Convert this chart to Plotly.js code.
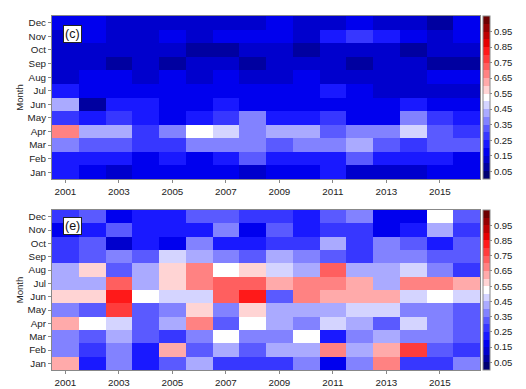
<!DOCTYPE html>
<html>
<head>
<meta charset="utf-8">
<script src="https://cdn.plot.ly/plotly-3.0.1.min.js"></script>
<style>html,body{margin:0;padding:0;background:#fff;}#chart{width:526px;height:389px;}</style>
</head>
<body>
<div id="chart"></div>
<script>
// ---- data ----
const years = [2001,2002,2003,2004,2005,2006,2007,2008,2009,2010,2011,2012,2013,2014,2015,2016];
const months = ['Jan','Feb','Mar','Apr','May','Jun','Jul','Aug','Sep','Oct','Nov','Dec'];
const xTickVals = [2001,2003,2005,2007,2009,2011,2013,2015];
const cbTickVals = [0.05,0.15,0.25,0.35,0.45,0.55,0.65,0.75,0.85,0.95];
const panelLabels = ['(c)','(e)'];

// panel (c): rows Jan..Dec, columns 2001..2016
const zC_Jan = [0.22,0.17,0.12,0.17,0.17,0.17,0.17,0.12,0.17,0.17,0.22,0.12,0.12,0.12,0.17,0.17];
const zC_Feb = [0.22,0.22,0.22,0.17,0.22,0.17,0.22,0.32,0.22,0.22,0.22,0.32,0.22,0.22,0.22,0.17];
const zC_Mar = [0.37,0.32,0.32,0.27,0.27,0.37,0.37,0.37,0.32,0.37,0.37,0.42,0.31,0.27,0.33,0.31];
const zC_Apr = [0.68,0.42,0.42,0.27,0.37,0.53,0.47,0.37,0.42,0.42,0.32,0.37,0.37,0.47,0.32,0.28];
const zC_May = [0.27,0.22,0.28,0.22,0.17,0.22,0.27,0.37,0.22,0.22,0.27,0.17,0.17,0.38,0.27,0.22];
const zC_Jun = [0.42,0.08,0.22,0.22,0.17,0.17,0.22,0.17,0.17,0.17,0.17,0.17,0.17,0.22,0.17,0.17];
const zC_Jul = [0.22,0.17,0.17,0.17,0.17,0.17,0.17,0.17,0.17,0.17,0.22,0.17,0.12,0.12,0.12,0.12];
const zC_Aug = [0.12,0.17,0.17,0.12,0.17,0.12,0.17,0.12,0.12,0.17,0.12,0.12,0.12,0.12,0.17,0.17];
const zC_Sep = [0.12,0.12,0.08,0.12,0.08,0.12,0.12,0.08,0.12,0.12,0.12,0.08,0.12,0.12,0.08,0.08];
const zC_Oct = [0.12,0.12,0.12,0.12,0.12,0.08,0.08,0.12,0.12,0.08,0.12,0.12,0.12,0.08,0.12,0.12];
const zC_Nov = [0.12,0.17,0.12,0.12,0.17,0.12,0.17,0.17,0.17,0.12,0.22,0.27,0.22,0.17,0.12,0.17];
const zC_Dec = [0.17,0.17,0.12,0.12,0.12,0.12,0.12,0.12,0.17,0.12,0.12,0.17,0.12,0.12,0.08,0.17];

// panel (e)
const zE_Jan = [0.62,0.22,0.37,0.22,0.32,0.42,0.27,0.27,0.27,0.37,0.17,0.37,0.67,0.27,0.27,0.37];
const zE_Feb = [0.37,0.27,0.37,0.22,0.62,0.32,0.42,0.32,0.42,0.42,0.67,0.42,0.63,0.77,0.32,0.27];
const zE_Mar = [0.37,0.32,0.42,0.32,0.27,0.37,0.53,0.37,0.37,0.53,0.24,0.37,0.42,0.37,0.37,0.33];
const zE_Apr = [0.62,0.53,0.47,0.32,0.42,0.67,0.32,0.53,0.42,0.37,0.47,0.42,0.32,0.47,0.37,0.33];
const zE_May = [0.37,0.32,0.77,0.32,0.37,0.58,0.37,0.57,0.42,0.42,0.42,0.47,0.47,0.37,0.37,0.32];
const zE_Jun = [0.57,0.57,0.82,0.53,0.47,0.47,0.72,0.82,0.32,0.68,0.62,0.62,0.62,0.47,0.53,0.47];
const zE_Jul = [0.42,0.42,0.72,0.42,0.57,0.68,0.72,0.72,0.63,0.67,0.67,0.62,0.42,0.67,0.67,0.62];
const zE_Aug = [0.42,0.57,0.32,0.42,0.57,0.67,0.53,0.57,0.47,0.42,0.72,0.42,0.42,0.47,0.37,0.27];
const zE_Sep = [0.27,0.32,0.37,0.32,0.47,0.42,0.37,0.32,0.42,0.37,0.32,0.27,0.37,0.37,0.33,0.33];
const zE_Oct = [0.27,0.32,0.12,0.22,0.17,0.37,0.22,0.22,0.27,0.27,0.42,0.27,0.37,0.32,0.22,0.32];
const zE_Nov = [0.17,0.22,0.32,0.22,0.22,0.22,0.37,0.17,0.32,0.22,0.27,0.27,0.17,0.22,0.42,0.27];
const zE_Dec = [0.27,0.32,0.17,0.22,0.22,0.32,0.32,0.27,0.27,0.22,0.32,0.37,0.17,0.17,0.53,0.32];

const zC = [zC_Jan,zC_Feb,zC_Mar,zC_Apr,zC_May,zC_Jun,zC_Jul,zC_Aug,zC_Sep,zC_Oct,zC_Nov,zC_Dec];
const zE = [zE_Jan,zE_Feb,zE_Mar,zE_Apr,zE_May,zE_Jun,zE_Jul,zE_Aug,zE_Sep,zE_Oct,zE_Nov,zE_Dec];

// ---- styling ----
const bandColors = [
  'rgb(0,0,115)','rgb(0,0,160)','rgb(0,0,205)','rgb(0,0,238)','rgb(25,25,255)',
  'rgb(55,55,255)','rgb(90,90,255)','rgb(130,130,255)','rgb(170,170,255)','rgb(212,212,255)',
  'rgb(255,255,255)',
  'rgb(255,212,212)','rgb(255,170,170)','rgb(255,130,130)','rgb(255,95,95)','rgb(255,60,60)',
  'rgb(255,25,25)','rgb(230,0,0)','rgb(190,0,0)','rgb(150,0,0)','rgb(110,0,0)'
];
const nb = bandColors.length;
const colorscale = [];
bandColors.forEach((c,k)=>{ colorscale.push([k/nb,c]); colorscale.push([(k+1)/nb,c]); });

const W = 526, H = 389;
const px = v => v / W;
const py = v => 1 - v / H;
const plot1 = {top:16, bottom:179};
const plot2 = {top:210, bottom:370};
const left = 52, right = 480;
const FAM = 'Liberation Sans, Arial, sans-serif';

function cbar(p){
  return {
    x: px(483), xanchor:'left', xref:'paper',
    y: py(p.top), yanchor:'top', yref:'paper',
    len: (p.bottom - p.top)/H, lenmode:'fraction',
    thickness: 7, thicknessmode:'pixels',
    outlinewidth: 1, outlinecolor:'#888',
    tickvals: cbTickVals, ticktext: cbTickVals.map(v=>v.toFixed(2)),
    ticks:'outside', ticklen:2, tickcolor:'#888',
    tickfont:{size:9.5, color:'#222', family:FAM},
    xpad:0, ypad:0
  };
}

const common = {type:'heatmap', x: years, y: months, colorscale: colorscale, zmin:0, zmax:1.05, hoverinfo:'skip'};
const traces = [
  Object.assign({}, common, {z: zC, xaxis:'x', yaxis:'y', colorbar: cbar(plot1)}),
  Object.assign({}, common, {z: zE, xaxis:'x2', yaxis:'y2', colorbar: cbar(plot2)})
];

const fnt = {family:FAM, size:9.8, color:'#222'};
function xax(anchor){
  return {domain:[px(left), px(right)], anchor: anchor, range:[2000.5,2016.5],
    tickvals: xTickVals, ticks:'outside', ticklen:3, tickcolor:'#888',
    showline:true, linecolor:'#888', linewidth:1, mirror:true, showgrid:false, zeroline:false,
    tickfont: fnt};
}
function yax(anchor, p){
  return {domain:[py(p.bottom), py(p.top)], anchor: anchor, type:'category',
    categoryorder:'array', categoryarray: months,
    ticks:'outside', ticklen:3, tickcolor:'#888',
    showline:true, linecolor:'#888', linewidth:1, mirror:true, showgrid:false, zeroline:false,
    tickfont: fnt, title:{text:'Month', font:{family:FAM, size:9.5, color:'#222'}, standoff:2}};
}

const layout = {
  width: W, height: H,
  margin:{l:0,r:0,t:0,b:0},
  paper_bgcolor:'#fff', plot_bgcolor:'#fff',
  showlegend:false,
  xaxis: xax('y'), yaxis: yax('x', plot1),
  xaxis2: xax('y2'), yaxis2: yax('x2', plot2),
  annotations: [
    {text: panelLabels[0], xref:'paper', yref:'paper', x: px(72.5), y: py(34), xanchor:'center', yanchor:'middle',
     showarrow:false, bgcolor:'#fff', bordercolor:'#222', borderwidth:1, borderpad:1,
     font:{family:FAM, size:12.5, color:'#111'}},
    {text: panelLabels[1], xref:'paper', yref:'paper', x: px(72.5), y: py(226), xanchor:'center', yanchor:'middle',
     showarrow:false, bgcolor:'#fff', bordercolor:'#222', borderwidth:1, borderpad:1,
     font:{family:FAM, size:12.5, color:'#111'}}
  ]
};

Plotly.newPlot('chart', traces, layout, {displayModeBar:false, staticPlot:true});
</script>
</body>
</html>
